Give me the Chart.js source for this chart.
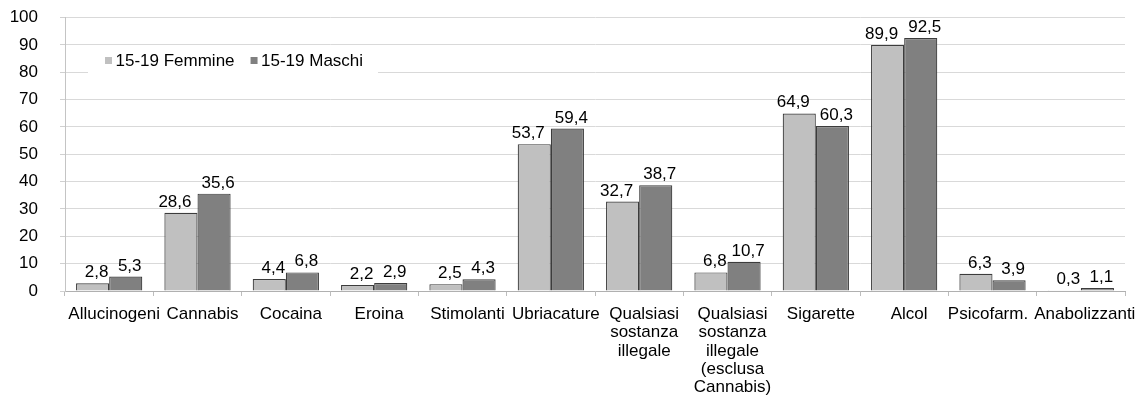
<!DOCTYPE html>
<html>
<head>
<meta charset="utf-8">
<script src="https://cdn.jsdelivr.net/npm/chart.js@4.4.0/dist/chart.umd.min.js"></script>
<style>
  html, body { margin: 0; padding: 0; background: #fff; }
  canvas { display: block; }
</style>
</head>
<body>
<canvas id="chart" width="1146" height="399"></canvas>
<script>
// Categories (multi-line labels are arrays of lines)
const categories = [
  'Allucinogeni', 'Cannabis', 'Cocaina', 'Eroina', 'Stimolanti', 'Ubriacature',
  ['Qualsiasi', 'sostanza', 'illegale'],
  ['Qualsiasi', 'sostanza', 'illegale', '(esclusa', 'Cannabis)'],
  'Sigarette', 'Alcol', 'Psicofarm.', 'Anabolizzanti'
];
const seriesNames = ['15-19 Femmine', '15-19 Maschi'];
const femmine = [2.8, 28.6, 4.4, 2.2, 2.5, 53.7, 32.7, 6.8, 64.9, 89.9, 6.3, 0.3];
const maschi  = [5.3, 35.6, 6.8, 2.9, 4.3, 59.4, 38.7, 10.7, 60.3, 92.5, 3.9, 1.1];
const yMin = 0, yMax = 100, yStep = 10;

const FONT_FAMILY = "'Liberation Sans', Arial, sans-serif";
const FONT_SIZE = 17;
const FONT = FONT_SIZE + 'px ' + FONT_FAMILY;

// Italian decimal comma
const fmt = v => v.toFixed(1).replace('.', ',');

// Value labels above each bar; when the two labels of a group collide,
// the left one is pushed further left.
const valueLabels = {
  id: 'valueLabels',
  afterDatasetsDraw(chart) {
    const ctx = chart.ctx;
    ctx.save();
    ctx.font = FONT;
    ctx.fillStyle = '#000';
    ctx.textAlign = 'center';
    ctx.textBaseline = 'alphabetic';
    const m0 = chart.getDatasetMeta(0).data;
    const m1 = chart.getDatasetMeta(1).data;
    const d0 = chart.data.datasets[0].data;
    const d1 = chart.data.datasets[1].data;
    m0.forEach((barL, j) => {
      const barR = m1[j];
      const tL = fmt(d0[j]), tR = fmt(d1[j]);
      const wL = ctx.measureText(tL).width, wR = ctx.measureText(tR).width;
      let xL = barL.x + 4, xR = barR.x + 4;
      if (xL + wL / 2 + 3 > xR - wR / 2) xL -= 10;
      ctx.fillText(tL, xL, barL.y - 6);
      ctx.fillText(tR, xR, barR.y - 6);
    });
    ctx.restore();
  }
};

// Legend in a white box inside the plot area
const boxLegend = {
  id: 'boxLegend',
  afterDatasetsDraw(chart) {
    const { ctx, chartArea } = chart;
    ctx.save();
    const left = chartArea.left + 23;
    const top = chartArea.top + 27.5;
    ctx.fillStyle = '#fff';
    ctx.fillRect(left, top, 290, 28);
    ctx.font = FONT;
    ctx.textBaseline = 'middle';
    ctx.textAlign = 'left';
    const cy = top + 16;
    let x = left + 17;
    chart.data.datasets.forEach(ds => {
      ctx.fillStyle = ds.backgroundColor;
      ctx.fillRect(x, cy - 4, 7, 7);
      x += 10.5;
      ctx.fillStyle = '#000';
      ctx.fillText(ds.label, x, cy);
      x += ctx.measureText(ds.label).width + 16;
    });
    ctx.restore();
  }
};

// Keep the last two category labels from running into each other
const labelNudge = {
  id: 'labelNudge',
  beforeDraw(chart) {
    const items = chart.scales.x.getLabelItems();
    if (items[10]) items[10].options.translation[0] -= 9.5;
    if (items[11]) items[11].options.translation[0] -= 1;
  }
};

new Chart(document.getElementById('chart'), {
  type: 'bar',
  data: {
    labels: categories,
    datasets: [
      {
        label: seriesNames[0],
        data: femmine,
        backgroundColor: '#c0c0c0',
        borderColor: '#3c3c3c',
        borderWidth: 1.2
      },
      {
        label: seriesNames[1],
        data: maschi,
        backgroundColor: '#808080',
        borderColor: '#3c3c3c',
        borderWidth: 1.2
      }
    ]
  },
  options: {
    responsive: false,
    animation: false,
    layout: { padding: { top: 17.5, right: 21, left: 0, bottom: 0 } },
    datasets: { bar: { categoryPercentage: 0.75, barPercentage: 1.0 } },
    plugins: {
      legend: { display: false },
      tooltip: { enabled: false }
    },
    scales: {
      x: {
        afterFit(scale) { scale.height = 108; },
        grid: {
          display: true,
          drawOnChartArea: false,
          drawTicks: true,
          tickLength: 5,
          tickColor: '#bdbdbd',
          offset: true
        },
        border: { display: true, color: '#b0b0b0', width: 1 },
        ticks: {
          color: '#000',
          font: { family: FONT_FAMILY, size: FONT_SIZE, lineHeight: 1.08 },
          padding: 9,
          labelOffset: 5,
          maxRotation: 0,
          autoSkip: false
        }
      },
      y: {
        min: yMin,
        max: yMax,
        afterFit(scale) {
          scale.width = 65;
          scale.paddingTop = 0;
          scale.paddingBottom = 0;
        },
        grid: {
          color: '#d9d9d9',
          tickColor: '#d0d0d0',
          tickLength: 5,
          lineWidth: 1
        },
        border: { display: true, color: '#c4c4c4', width: 1 },
        ticks: {
          stepSize: yStep,
          color: '#000',
          font: { family: FONT_FAMILY, size: FONT_SIZE },
          padding: 22
        }
      }
    }
  },
  plugins: [boxLegend, valueLabels, labelNudge]
});
</script>
</body>
</html>
